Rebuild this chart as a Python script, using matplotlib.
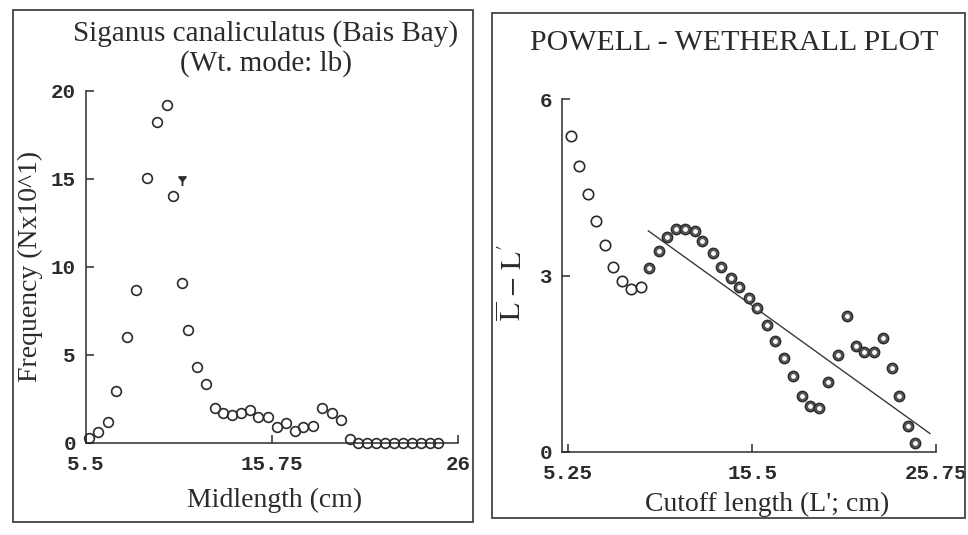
"""Length-frequency sample and Powell-Wetherall plot for Siganus canaliculatus (Bais Bay)."""

import matplotlib

matplotlib.use("Agg")
import matplotlib.pyplot as plt
from matplotlib.patches import Rectangle
from matplotlib.path import Path

# left panel: length-frequency sample
MIDLENGTH = [5.71, 6.17, 6.75, 7.20, 7.76, 8.28, 8.90, 9.41, 9.96, 10.29,
             10.79, 11.15, 11.65, 12.12, 12.62, 13.08, 13.57, 14.03, 14.54, 14.97,
             15.52, 16.04, 16.52, 17.02, 17.47, 18.02, 18.49, 19.04, 19.53, 20.04,
             20.46, 20.97, 21.46, 21.95, 22.45, 22.94, 23.43, 23.93, 24.42, 24.91]
FREQUENCY = [0.25, 0.59, 1.19, 2.94, 5.99, 8.67, 15.03, 18.20, 19.20, 14.00,
             9.08, 6.40, 4.28, 3.34, 1.95, 1.70, 1.57, 1.70, 1.86, 1.48,
             1.45, 0.91, 1.10, 0.68, 0.87, 0.95, 1.95, 1.70, 1.30, 0.19,
             0.0, 0.0, 0.0, 0.0, 0.0, 0.0, 0.0, 0.0, 0.0, 0.0]
MARK_X = 10.79
MARK_Y = 14.9
LEFT_XTICKS = [5.5, 15.75, 26]
LEFT_XTICKLABELS = ["5.5", "15.75", "26"]
LEFT_YTICKS = [0, 5, 10, 15, 20]

# right panel: Powell-Wetherall points (open = not used, filled = used in fit)
OPEN_CUTOFF = [5.40, 5.85, 6.33, 6.79, 7.30, 7.76, 8.26, 8.73, 9.29]
OPEN_DIFF = [5.38, 4.87, 4.39, 3.92, 3.52, 3.15, 2.90, 2.77, 2.81]
FIT_CUTOFF = [9.77, 10.31, 10.73, 11.24, 11.75, 12.31, 12.72, 13.30, 13.74, 14.30,
              14.78, 15.34, 15.78, 16.31, 16.77, 17.27, 17.76, 18.26, 18.72, 19.24,
              19.74, 20.27, 20.77, 21.29, 21.73, 22.29, 22.77, 23.28, 23.70, 24.17,
              24.58]
FIT_DIFF = [3.12, 3.42, 3.65, 3.79, 3.79, 3.75, 3.58, 3.39, 3.15, 2.95,
            2.80, 2.61, 2.44, 2.16, 1.89, 1.59, 1.29, 0.94, 0.78, 0.74,
            1.18, 1.65, 2.31, 1.80, 1.69, 1.69, 1.93, 1.42, 0.94, 0.43,
            0.15]
LINE_X = [9.71, 25.41]
LINE_Y = [3.76, 0.31]
RIGHT_XTICKS = [5.25, 15.5, 25.75]
RIGHT_XTICKLABELS = ["5.25", "15.5", "25.75"]
RIGHT_YTICKS = [0, 3, 6]

W, H = 968, 535
INK = "#2b2b2b"
SERIF = ["Liberation Serif", "DejaVu Serif"]
MONO = ["Liberation Mono", "DejaVu Sans Mono"]


def fx(x):
    return x / W


def fy(y):
    return 1 - y / H


def _style_axes(ax, xticks, xlabels, yticks):
    for side in ("top", "right"):
        ax.spines[side].set_visible(False)
    for side in ("left", "bottom"):
        ax.spines[side].set_color(INK)
        ax.spines[side].set_linewidth(1.1)
    ax.set_xticks(xticks)
    ax.set_xticklabels(xlabels)
    ax.set_yticks(yticks)
    ax.tick_params(direction="in", length=6, width=1.1, color=INK, labelcolor=INK)
    ax.tick_params(axis="x", pad=9)
    ax.tick_params(axis="y", pad=7)
    for lab in ax.get_xticklabels() + ax.get_yticklabels():
        lab.set_family(MONO)
        lab.set_fontsize(15)
        lab.set_fontweight("bold")
    ax.patch.set_alpha(0)


fig = plt.figure(figsize=(W / 100, H / 100), dpi=100)

# panel frames
fig.patches.append(Rectangle((fx(13), fy(522)), fx(460), 512 / H, transform=fig.transFigure,
                             fill=False, edgecolor="#444444", linewidth=1.3))
fig.patches.append(Rectangle((fx(492), fy(518)), fx(473), 505 / H, transform=fig.transFigure,
                             fill=False, edgecolor="#444444", linewidth=1.3))

# left panel
ax1 = fig.add_axes([fx(85.5), fy(442.7), fx(372.8), 352 / H])
ax1.plot(MIDLENGTH, FREQUENCY, linestyle="none", marker="o", markersize=7,
         markerfacecolor="none", markeredgecolor=INK, markeredgewidth=1.2, clip_on=False)
stem = Path([(-1, 1), (1, 1), (0, -0.2), (-1, 1), (0, -0.2), (0, -1.6)],
            [Path.MOVETO, Path.LINETO, Path.LINETO, Path.CLOSEPOLY, Path.MOVETO, Path.LINETO])
ax1.plot([MARK_X], [MARK_Y], linestyle="none", marker=stem, markersize=8,
         color=INK, markeredgewidth=1.3)
ax1.set_xlim(5.5, 26)
ax1.set_ylim(0, 20)
_style_axes(ax1, LEFT_XTICKS, LEFT_XTICKLABELS, LEFT_YTICKS)

# right panel
ax2 = fig.add_axes([fx(561.7), fy(451.7), fx(374.3), 352.4 / H])
ax2.plot(LINE_X, LINE_Y, color="#3a3a3a", linewidth=1.0)
ax2.plot(OPEN_CUTOFF, OPEN_DIFF, linestyle="none", marker="o", markersize=7.5,
         markerfacecolor="none", markeredgecolor=INK, markeredgewidth=1.2, clip_on=False)
ax2.plot(FIT_CUTOFF, FIT_DIFF, linestyle="none", marker="o", markersize=7.5,
         markerfacecolor="#555555", markeredgecolor=INK, markeredgewidth=1.0, clip_on=False)
ax2.plot(FIT_CUTOFF, FIT_DIFF, linestyle="none", marker="o", markersize=2.4,
         markerfacecolor="white", markeredgecolor="white", clip_on=False)
ax2.set_xlim(4.88, 25.75)
ax2.set_ylim(0, 6)
_style_axes(ax2, RIGHT_XTICKS, RIGHT_XTICKLABELS, RIGHT_YTICKS)

# titles and axis labels
text_kw = dict(family=SERIF, color=INK, ha="center")
fig.text(fx(266), fy(41), "Siganus canaliculatus (Bais Bay)", fontsize=21, va="baseline", **text_kw)
fig.text(fx(266), fy(71), "(Wt. mode: lb)", fontsize=21, va="baseline", **text_kw)
fig.text(fx(734), fy(50), "POWELL - WETHERALL PLOT", fontsize=21.5, va="baseline", **text_kw)
fig.text(fx(275), fy(507), "Midlength (cm)", fontsize=20, va="baseline", **text_kw)
fig.text(fx(767), fy(511), "Cutoff length (L'; cm)", fontsize=20, va="baseline", **text_kw)
fig.text(fx(30), fy(266), "Frequency (Nx10^1)", fontsize=20, va="center", rotation=90, **text_kw)

plt.rcParams["mathtext.fontset"] = "stix"
fig.text(fx(513), fy(283), r"$\overline{\mathrm{L}}\ \mathrm{-}\ \mathrm{L'}$", fontsize=21,
         va="center", rotation=90, color=INK, ha="center")

fig.savefig("out.png", dpi=100, facecolor="white")
